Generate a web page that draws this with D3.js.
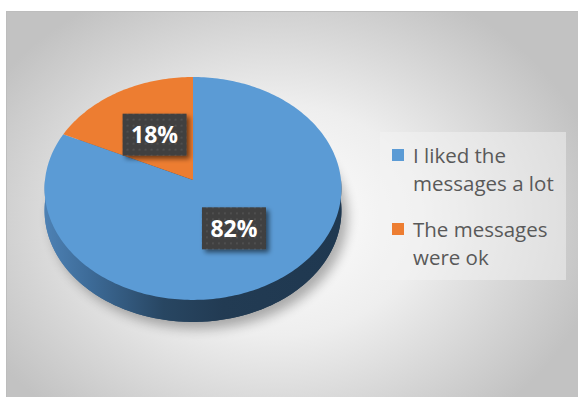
<!DOCTYPE html>
<html>
<head>
<meta charset="utf-8">
<script src="https://cdn.jsdelivr.net/npm/d3@7"></script>
<style>
  html, body { margin: 0; padding: 0; background: #fff; }
  svg { display: block; }
</style>
</head>
<body>
<svg id="chart" width="578" height="397"></svg>
<script>
const categories = ["I liked the messages a lot", "The messages were ok"];
const values = [82, 18];
const pctLabels = ["82%", "18%"];
const legendLines = [["I liked the", "messages a lot"], ["The messages", "were ok"]];
const colors = ["#5b9bd5", "#ed7d31"];

let svg = d3.select("#chart");
let width = 578, height = 397;
let defs = svg.append("defs");

// background panel gradient
let bg = defs.append("radialGradient")
  .attr("id", "bg")
  .attr("gradientUnits", "userSpaceOnUse")
  .attr("cx", 275).attr("cy", 220).attr("r", 330)
  .attr("gradientTransform", "translate(275,220) scale(1,0.78) translate(-275,-220)");
bg.append("stop").attr("offset", "0%").attr("stop-color", "#ffffff");
bg.append("stop").attr("offset", "45%").attr("stop-color", "#eeeeee");
bg.append("stop").attr("offset", "100%").attr("stop-color", "#c2c2c2");

// side of the pie
let side = defs.append("linearGradient")
  .attr("id", "side")
  .attr("gradientUnits", "userSpaceOnUse")
  .attr("x1", 45).attr("x2", 341).attr("y1", 0).attr("y2", 0);
[["0%", "#4d81b4"], ["15%", "#3d6b98"], ["40%", "#284662"], ["60%", "#223b53"], ["100%", "#1f3850"]]
  .forEach(s => side.append("stop").attr("offset", s[0]).attr("stop-color", s[1]));

let blur = defs.append("filter").attr("id", "pieShadow")
  .attr("x", "-20%").attr("y", "-20%").attr("width", "140%").attr("height", "140%");
blur.append("feGaussianBlur").attr("stdDeviation", 6);

let boxShadow = defs.append("filter").attr("id", "boxShadow")
  .attr("x", "-30%").attr("y", "-30%").attr("width", "160%").attr("height", "160%");
boxShadow.append("feGaussianBlur").attr("in", "SourceAlpha").attr("stdDeviation", 2.5).attr("result", "b");
boxShadow.append("feOffset").attr("in", "b").attr("dx", 3).attr("dy", 3).attr("result", "o");
boxShadow.append("feComponentTransfer").attr("in", "o").attr("result", "s")
  .append("feFuncA").attr("type", "linear").attr("slope", 0.55);
let merge = boxShadow.append("feMerge");
merge.append("feMergeNode").attr("in", "s");
merge.append("feMergeNode").attr("in", "SourceGraphic");

let dots = defs.append("pattern").attr("id", "dots")
  .attr("patternUnits", "userSpaceOnUse").attr("width", 6).attr("height", 6);
dots.append("rect").attr("width", 6).attr("height", 6).attr("fill", "#3f3f3f");
dots.append("circle").attr("cx", 3).attr("cy", 3).attr("r", 0.9).attr("fill", "#575757");

// panel
svg.append("rect")
  .attr("x", 6.5).attr("y", 11.5)
  .attr("width", width).attr("height", height)
  .attr("fill", "url(#bg)")
  .attr("stroke", "#bdbdbd").attr("stroke-width", 1);

// perspective projection of the pie disk
let cx = 193, cy = 180, R = 148, B = 110.8, k = 0.076, depth = 22;
function project(theta, r, dy) {
  let u = r * Math.sin(theta), w = r * Math.cos(theta);
  let f = 1 / (1 + k * w);
  return [cx + R * u * f, cy - B * w * f + (dy || 0)];
}
function arcPoints(a0, a1, r, dy) {
  let n = Math.max(2, Math.ceil(Math.abs(a1 - a0) / 0.02));
  return d3.range(n + 1).map(i => project(a0 + (a1 - a0) * i / n, r, dy));
}
let line = d3.line();

let chart = svg.append("g");

// shadow
chart.append("path")
  .attr("d", line(arcPoints(0, 2 * Math.PI, 1, depth + 7).map(p => [p[0] + 6, p[1]])) + "Z")
  .attr("fill", "#000").attr("opacity", 0.3)
  .attr("filter", "url(#pieShadow)");

// bottom disk + side band
chart.append("path")
  .attr("d", line(arcPoints(0, 2 * Math.PI, 1, depth)) + "Z")
  .attr("fill", "url(#side)");
let band = arcPoints(Math.PI / 2, 3 * Math.PI / 2, 1, 0)
  .concat(arcPoints(3 * Math.PI / 2, Math.PI / 2, 1, depth));
chart.append("path").attr("d", line(band) + "Z").attr("fill", "url(#side)");

// top face slices
let pie = d3.pie().sort(null)(values);
chart.selectAll(".slice")
  .data(pie)
  .join("path")
  .attr("class", "slice")
  .attr("d", d => line([project(0, 0)].concat(arcPoints(d.startAngle, d.endAngle, 1, 0))) + "Z")
  .attr("fill", (d, i) => colors[i]);

// data labels
let lab = chart.selectAll(".lab")
  .data(pie)
  .join("g")
  .attr("class", "lab")
  .attr("transform", d => {
    let p = project((d.startAngle + d.endAngle) / 2, 0.5, 0);
    return `translate(${p[0]},${p[1]})`;
  });
lab.append("rect")
  .attr("x", -32).attr("y", -21).attr("width", 64).attr("height", 42)
  .attr("fill", "url(#dots)")
  .attr("filter", "url(#boxShadow)");
lab.append("text")
  .attr("text-anchor", "middle")
  .attr("dy", "0.36em")
  .attr("font-family", "'Open Sans', sans-serif")
  .attr("font-weight", "bold")
  .attr("font-size", 23)
  .attr("fill", "#fff")
  .text((d, i) => pctLabels[i]);

// legend
let legend = svg.append("g");
legend.append("rect")
  .attr("x", 380).attr("y", 132).attr("width", 186).attr("height", 148)
  .attr("fill", "#f4f4f4").attr("opacity", 0.5);
let item = legend.selectAll(".item")
  .data(categories)
  .join("g")
  .attr("class", "item")
  .attr("transform", (d, i) => `translate(392,${149 + i * 74})`);
item.append("rect")
  .attr("width", 12).attr("height", 12)
  .attr("fill", (d, i) => colors[i]);
item.append("text")
  .attr("x", 21).attr("y", 14)
  .attr("font-family", "'Open Sans', sans-serif")
  .attr("font-size", 20.5)
  .attr("fill", "#595959")
  .selectAll("tspan")
  .data((d, i) => legendLines[i])
  .join("tspan")
  .attr("x", 21)
  .attr("dy", (d, j) => j === 0 ? 0 : 28)
  .text(d => d);
</script>
</body>
</html>
